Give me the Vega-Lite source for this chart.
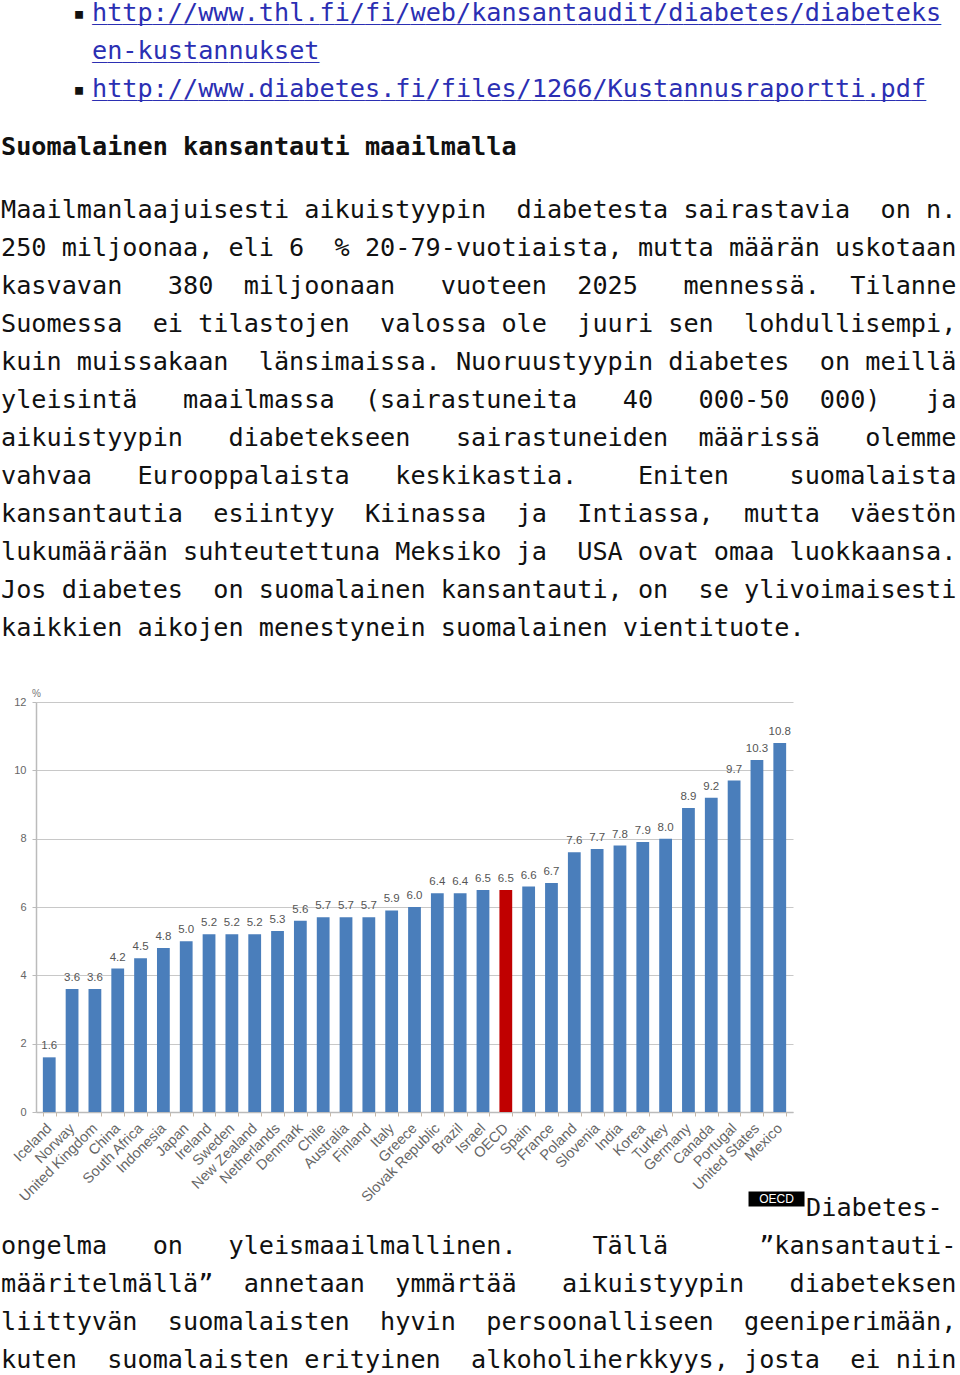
{
  "$schema": "https://vega.github.io/schema/vega-lite/v6.json",
  "padding": {"left": -5, "top": -2, "right": 0, "bottom": 0},
  "background": "white",
  "bounds": "flush",
  "spacing": 0,
  "config": {"view": {"stroke": null}},
  "datasets": {
    "links": [
      {"line": 0, "text": "http://www.thl.fi/fi/web/kansantaudit/diabetes/diabeteks"},
      {"line": 1, "text": "en-kustannukset"},
      {"line": 2, "text": "http://www.diabetes.fi/files/1266/Kustannusraportti.pdf"}
    ],
    "bullets": [
      {"line": 0, "text": "▪"},
      {"line": 2, "text": "▪"}
    ],
    "heading": [
      {"line": 0, "text": "Suomalainen kansantauti maailmalla"}
    ],
    "body": [
      {"line": 0, "text": "Maailmanlaajuisesti aikuistyypin \u00a0diabetesta sairastavia \u00a0on n."},
      {"line": 1, "text": "250 miljoonaa, eli 6 \u00a0% 20-79-vuotiaista, mutta määrän uskotaan"},
      {"line": 2, "text": "kasvavan \u00a0\u00a0380 \u00a0miljoonaan \u00a0\u00a0vuoteen \u00a02025 \u00a0\u00a0mennessä. \u00a0Tilanne"},
      {"line": 3, "text": "Suomessa \u00a0ei tilastojen \u00a0valossa ole \u00a0juuri sen \u00a0lohdullisempi,"},
      {"line": 4, "text": "kuin muissakaan \u00a0länsimaissa. Nuoruustyypin diabetes \u00a0on meillä"},
      {"line": 5, "text": "yleisintä \u00a0\u00a0maailmassa \u00a0(sairastuneita \u00a0\u00a040 \u00a0\u00a0000-50 \u00a0000) \u00a0\u00a0ja"},
      {"line": 6, "text": "aikuistyypin \u00a0\u00a0diabetekseen \u00a0\u00a0sairastuneiden \u00a0määrissä \u00a0\u00a0olemme"},
      {"line": 7, "text": "vahvaa \u00a0\u00a0Eurooppalaista \u00a0\u00a0keskikastia. \u00a0\u00a0\u00a0Eniten \u00a0\u00a0\u00a0suomalaista"},
      {"line": 8, "text": "kansantautia \u00a0esiintyy \u00a0Kiinassa \u00a0ja \u00a0Intiassa, \u00a0mutta \u00a0väestön"},
      {"line": 9, "text": "lukumäärään suhteutettuna Meksiko ja \u00a0USA ovat omaa luokkaansa."},
      {"line": 10, "text": "Jos diabetes \u00a0on suomalainen kansantauti, on \u00a0se ylivoimaisesti"},
      {"line": 11, "text": "kaikkien aikojen menestynein suomalainen vientituote."}
    ],
    "diabetes": [
      {"country": "Iceland", "value": 1.6},
      {"country": "Norway", "value": 3.6},
      {"country": "United Kingdom", "value": 3.6},
      {"country": "China", "value": 4.2},
      {"country": "South Africa", "value": 4.5},
      {"country": "Indonesia", "value": 4.8},
      {"country": "Japan", "value": 5.0},
      {"country": "Ireland", "value": 5.2},
      {"country": "Sweden", "value": 5.2},
      {"country": "New Zealand", "value": 5.2},
      {"country": "Netherlands", "value": 5.3},
      {"country": "Denmark", "value": 5.6},
      {"country": "Chile", "value": 5.7},
      {"country": "Australia", "value": 5.7},
      {"country": "Finland", "value": 5.7},
      {"country": "Italy", "value": 5.9},
      {"country": "Greece", "value": 6.0},
      {"country": "Slovak Republic", "value": 6.4},
      {"country": "Brazil", "value": 6.4},
      {"country": "Israel", "value": 6.5},
      {"country": "OECD", "value": 6.5},
      {"country": "Spain", "value": 6.6},
      {"country": "France", "value": 6.7},
      {"country": "Poland", "value": 7.6},
      {"country": "Slovenia", "value": 7.7},
      {"country": "India", "value": 7.8},
      {"country": "Korea", "value": 7.9},
      {"country": "Turkey", "value": 8.0},
      {"country": "Germany", "value": 8.9},
      {"country": "Canada", "value": 9.2},
      {"country": "Portugal", "value": 9.7},
      {"country": "United States", "value": 10.3},
      {"country": "Mexico", "value": 10.8}
    ],
    "badge": [
      {"line": 0, "label": "OECD"}
    ],
    "bottomFirst": [
      {"line": 0, "text": "Diabetes-"}
    ],
    "bottom": [
      {"line": 1, "text": "ongelma \u00a0\u00a0on \u00a0\u00a0yleismaailmallinen. \u00a0\u00a0\u00a0\u00a0Tällä \u00a0\u00a0\u00a0\u00a0\u00a0”kansantauti-"},
      {"line": 2, "text": "määritelmällä” \u00a0annetaan \u00a0ymmärtää \u00a0\u00a0aikuistyypin \u00a0\u00a0diabeteksen"},
      {"line": 3, "text": "liittyvän \u00a0suomalaisten \u00a0hyvin \u00a0persoonalliseen \u00a0geeniperimään,"},
      {"line": 4, "text": "kuten \u00a0suomalaisten erityinen \u00a0alkoholiherkkyys, josta \u00a0ei niin"}
    ]
  },
  "vconcat": [
    {
      "width": 960,
      "height": 702,
      "layer": [
        {
          "data": {"name": "links"},
          "mark": {"type": "text", "align": "left", "baseline": "alphabetic", "font": "DejaVu Sans Mono", "fontSize": 25.2, "color": "#2b2fb3"},
          "encoding": {
            "x": {"datum": 6, "type": "quantitative", "scale": {"domain": [0, 63.28], "nice": false, "zero": false}, "axis": null},
            "y": {"field": "line", "type": "quantitative", "scale": {"domain": [-0.55263, 17.92105], "reverse": true, "nice": false, "zero": false}, "axis": null},
            "text": {"field": "text"}
          }
        },
        {
          "data": {"name": "links"},
          "mark": {"type": "text", "align": "left", "baseline": "alphabetic", "font": "DejaVu Sans Mono", "fontSize": 25.2, "color": "#2b2fb3", "dy": -2, "text": {"expr": "pad('', length(datum.text), '_')"}},
          "encoding": {
            "x": {"datum": 6, "type": "quantitative", "scale": {"domain": [0, 63.28], "nice": false, "zero": false}, "axis": null},
            "y": {"field": "line", "type": "quantitative", "scale": {"domain": [-0.55263, 17.92105], "reverse": true, "nice": false, "zero": false}, "axis": null}
          }
        },
        {
          "data": {"name": "bullets"},
          "mark": {"type": "text", "align": "center", "baseline": "alphabetic", "font": "DejaVu Sans Mono", "fontSize": 20, "color": "#111111", "dy": -1},
          "encoding": {
            "x": {"datum": 5.14, "type": "quantitative", "scale": {"domain": [0, 63.28], "nice": false, "zero": false}, "axis": null},
            "y": {"field": "line", "type": "quantitative", "scale": {"domain": [-0.55263, 17.92105], "reverse": true, "nice": false, "zero": false}, "axis": null},
            "text": {"field": "text"}
          }
        },
        {
          "data": {"name": "heading"},
          "mark": {"type": "text", "align": "left", "baseline": "alphabetic", "font": "DejaVu Sans Mono", "fontSize": 25.2, "fontWeight": "bold", "color": "#111111"},
          "encoding": {
            "x": {"datum": 0, "type": "quantitative", "scale": {"domain": [0, 63.28], "nice": false, "zero": false}, "axis": null},
            "y": {"field": "line", "type": "quantitative", "scale": {"domain": [-4.07895, 14.39474], "reverse": true, "nice": false, "zero": false}, "axis": null},
            "text": {"field": "text"}
          }
        },
        {
          "data": {"name": "body"},
          "mark": {"type": "text", "align": "left", "baseline": "alphabetic", "font": "DejaVu Sans Mono", "fontSize": 25.2, "color": "#111111"},
          "encoding": {
            "x": {"datum": 0, "type": "quantitative", "scale": {"domain": [0, 63.28], "nice": false, "zero": false}, "axis": null},
            "y": {"field": "line", "type": "quantitative", "scale": {"domain": [-5.73684, 12.73684], "reverse": true, "nice": false, "zero": false}, "axis": null},
            "text": {"field": "text"}
          }
        }
      ],
      "resolve": {"scale": {"y": "independent"}}
    },
    {
      "width": 800,
      "height": 410,
      "data": {"name": "diabetes"},
      "encoding": {
        "x": {
          "field": "country",
          "type": "nominal",
          "sort": null,
          "scale": {"range": [35, 792], "paddingInner": 0.44, "paddingOuter": 0.3},
          "axis": {
            "title": null,
            "labelAngle": -45,
            "labelAlign": "right",
            "labelBaseline": "middle",
            "labelFont": "Liberation Sans",
            "labelFontSize": 14.5,
            "labelColor": "#666666",
            "labelPadding": 10,
            "labelOverlap": false,
            "labelLimit": 300,
            "tickSize": 4,
            "tickColor": "#c9b9a6",
            "tickBand": "extent",
            "domainColor": "#bbbbbb",
            "domainWidth": 1.5
          }
        },
        "y": {
          "field": "value",
          "type": "quantitative",
          "scale": {"domain": [0, 12], "nice": false},
          "axis": {
            "values": [0, 2, 4, 6, 8, 10, 12],
            "offset": -35,
            "title": "%",
            "titleAngle": 0,
            "titleX": 0,
            "titleY": -9,
            "titleAlign": "center",
            "titleBaseline": "middle",
            "titleFont": "Liberation Sans",
            "titleFontSize": 10,
            "titleFontWeight": "normal",
            "titleColor": "#777777",
            "labelFont": "Liberation Sans",
            "labelFontSize": 11,
            "labelColor": "#666666",
            "labelPadding": 6,
            "tickSize": 4,
            "tickColor": "#bbbbbb",
            "domainColor": "#bbbbbb",
            "domainWidth": 1.5,
            "grid": true,
            "gridColor": "#c8c8c8"
          }
        }
      },
      "layer": [
        {
          "mark": {"type": "bar"},
          "encoding": {
            "color": {"condition": {"test": "datum.country === 'OECD'", "value": "#C00000"}, "value": "#4A7EBB"}
          }
        },
        {
          "mark": {"type": "text", "dy": -8, "baseline": "alphabetic", "align": "center", "font": "Liberation Sans", "fontSize": 11.5, "color": "#555555"},
          "encoding": {
            "text": {"field": "value", "type": "quantitative", "format": ".1f"}
          }
        }
      ]
    },
    {
      "width": 960,
      "height": 263,
      "layer": [
        {
          "data": {"name": "badge"},
          "mark": {"type": "point", "filled": true, "color": "#000000", "opacity": 1, "shape": "M-1,-0.268H1V0.268H-1Z", "size": 3136, "yOffset": -17},
          "encoding": {
            "x": {"datum": 51.12, "type": "quantitative", "scale": {"domain": [0, 63.28], "nice": false, "zero": false}, "axis": null},
            "y": {"field": "line", "type": "quantitative", "scale": {"domain": [-2.73684, 4.18421], "reverse": true, "nice": false, "zero": false}, "axis": null}
          }
        },
        {
          "data": {"name": "badge"},
          "mark": {"type": "text", "align": "center", "baseline": "middle", "font": "Liberation Sans", "fontSize": 12, "color": "#ffffff", "dy": -17},
          "encoding": {
            "x": {"datum": 51.12, "type": "quantitative", "scale": {"domain": [0, 63.28], "nice": false, "zero": false}, "axis": null},
            "y": {"field": "line", "type": "quantitative", "scale": {"domain": [-2.73684, 4.18421], "reverse": true, "nice": false, "zero": false}, "axis": null},
            "text": {"field": "label"}
          }
        },
        {
          "data": {"name": "bottomFirst"},
          "mark": {"type": "text", "align": "left", "baseline": "alphabetic", "font": "DejaVu Sans Mono", "fontSize": 25.2, "color": "#111111"},
          "encoding": {
            "x": {"datum": 53.07, "type": "quantitative", "scale": {"domain": [0, 63.28], "nice": false, "zero": false}, "axis": null},
            "y": {"field": "line", "type": "quantitative", "scale": {"domain": [-2.73684, 4.18421], "reverse": true, "nice": false, "zero": false}, "axis": null},
            "text": {"field": "text"}
          }
        },
        {
          "data": {"name": "bottom"},
          "mark": {"type": "text", "align": "left", "baseline": "alphabetic", "font": "DejaVu Sans Mono", "fontSize": 25.2, "color": "#111111"},
          "encoding": {
            "x": {"datum": 0, "type": "quantitative", "scale": {"domain": [0, 63.28], "nice": false, "zero": false}, "axis": null},
            "y": {"field": "line", "type": "quantitative", "scale": {"domain": [-2.73684, 4.18421], "reverse": true, "nice": false, "zero": false}, "axis": null},
            "text": {"field": "text"}
          }
        }
      ]
    }
  ]
}
